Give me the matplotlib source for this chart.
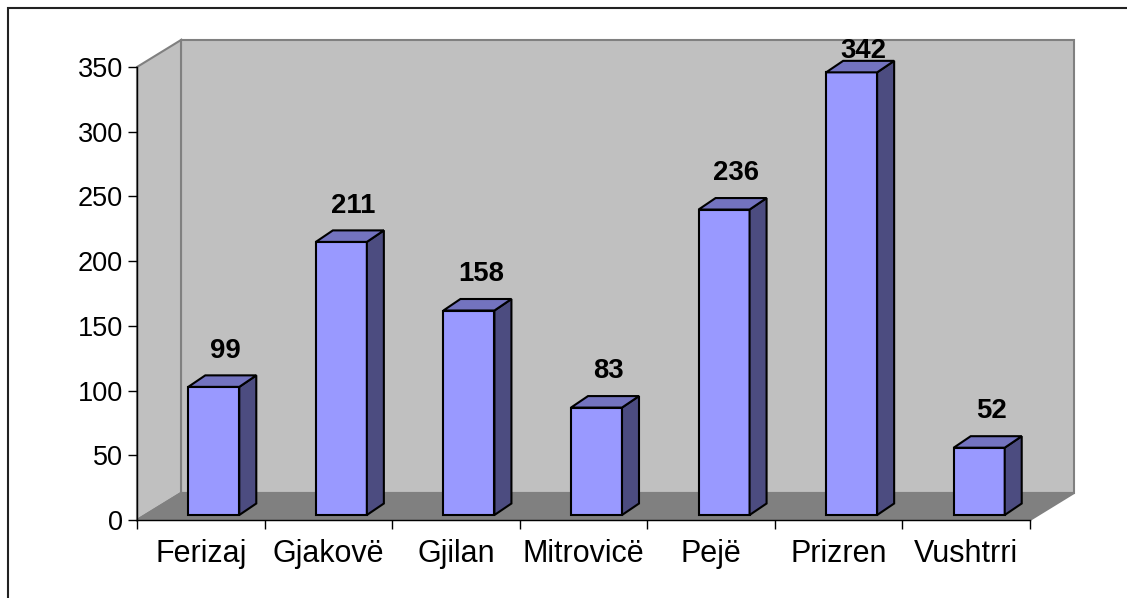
import numpy as np
import matplotlib.pyplot as plt
from matplotlib.patches import Polygon, Rectangle

plt.rcParams["font.family"] = ["Liberation Sans", "DejaVu Sans"]

cities = ["Ferizaj", "Gjakovë", "Gjilan", "Mitrovicë", "Pejë", "Prizren", "Vushtrri"]
counts = [99, 211, 158, 83, 236, 342, 52]
y_ticks = [0, 50, 100, 150, 200, 250, 300, 350]

W, H = 1127, 598
fig = plt.figure(figsize=(W / 100, H / 100), dpi=100)
fig.patch.set_facecolor("white")

# front plane of the 3d box in pixels
left, right, bottom, top = 137, 1030, 520, 67
ax = fig.add_axes([left / W, (H - bottom) / H, (right - left) / W, (bottom - top) / H])
n = len(cities)
ymax = 350
ax.set_xlim(0, n)
ax.set_ylim(0, ymax)
ax.set_facecolor("none")

px_x = (right - left) / n       # pixels per category
px_y = (bottom - top) / ymax    # pixels per unit

# depth of the walls
dx = 44 / px_x
dy = 27 / px_y

wall_c = "#c0c0c0"
floor_c = "#808080"
edge_c = "#808080"

back = Polygon([(dx, dy), (n + dx, dy), (n + dx, ymax + dy), (dx, ymax + dy)],
               closed=True, fc=wall_c, ec=edge_c, lw=1.5, clip_on=False, zorder=0)
side = Polygon([(0, 0), (dx, dy), (dx, ymax + dy), (0, ymax)],
               closed=True, fc=wall_c, ec=edge_c, lw=1.5, clip_on=False, zorder=0)
floor = Polygon([(0, 0), (n, 0), (n + dx, dy), (dx, dy)],
                closed=True, fc=floor_c, ec=edge_c, lw=1.5, clip_on=False, zorder=0.5)
for p in (back, side, floor):
    ax.add_patch(p)

# bars
bw = 51 / px_x
shift = 13 / px_x
base = 5 / px_y
bdx = 17 / px_x
bdy = 11.5 / px_y
front_c = "#9999ff"
top_c = "#7373bf"
side_c = "#4c4c80"

for i, v in enumerate(counts):
    x0 = i + 0.5 - bw / 2 + shift
    x1 = x0 + bw
    y0 = base
    y1 = base + v
    ax.add_patch(Polygon([(x0, y0), (x1, y0), (x1, y1), (x0, y1)], closed=True,
                         fc=front_c, ec="black", lw=1.5, clip_on=False, zorder=3))
    ax.add_patch(Polygon([(x1, y0), (x1 + bdx, y0 + bdy), (x1 + bdx, y1 + bdy), (x1, y1)],
                         closed=True, fc=side_c, ec="black", lw=1.5, clip_on=False, zorder=3))
    ax.add_patch(Polygon([(x0, y1), (x1, y1), (x1 + bdx, y1 + bdy), (x0 + bdx, y1 + bdy)],
                         closed=True, fc=top_c, ec="black", lw=1.5, clip_on=False, zorder=3))
    ly = min(y1 + 29.3 / px_y, (bottom - 58) / px_y)
    ax.text(i + 0.5 + 25 / px_x, ly, str(v), ha="center", va="baseline",
            fontsize=19.8, fontweight="bold", zorder=4, clip_on=False)

# axes
for s in ("top", "right"):
    ax.spines[s].set_visible(False)
for s in ("left", "bottom"):
    ax.spines[s].set_color("black")
    ax.spines[s].set_linewidth(1.0)
    ax.spines[s].set_zorder(2)

ax.set_yticks(y_ticks)
ax.tick_params(axis="y", direction="out", length=6.5, width=1, pad=3.6, labelsize=19.5)
ax.set_xticks(np.arange(n + 1))
ax.set_xticklabels([])
ax.tick_params(axis="x", which="major", direction="out", length=6.5, width=1)
ax.set_xticks(np.arange(n) + 0.5, minor=True)
ax.set_xticklabels(cities, minor=True)
ax.tick_params(axis="x", which="minor", length=0, pad=14, labelsize=22)

# outer chart frame
fig.add_artist(Rectangle((8 / W, -0.1), 1.2, (H - 8) / H + 0.1, transform=fig.transFigure,
                         fill=False, ec="#222222", lw=1.5))

fig.savefig("out.png", dpi=100)
